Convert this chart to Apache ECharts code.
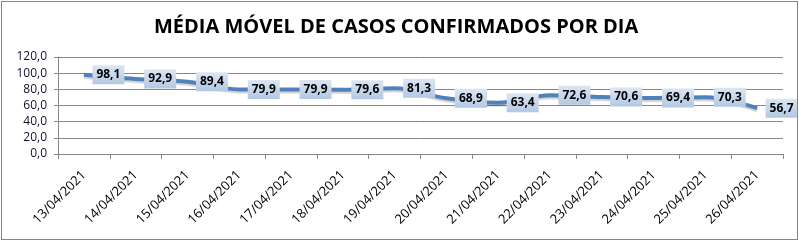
<!DOCTYPE html>
<html><head><meta charset="utf-8">
<script src="https://cdn.jsdelivr.net/npm/echarts@6/dist/echarts.min.js"></script>
<style>
html,body{margin:0;padding:0;background:#fff;}
#c{position:absolute;left:0;top:0;width:799px;height:241px;}
#b{position:absolute;left:1px;top:1px;width:795px;height:237px;border:1px solid #868686;pointer-events:none;}
</style></head>
<body><div id="c"></div><div id="b"></div>
<script>
const titleText = 'MÉDIA MÓVEL DE CASOS CONFIRMADOS POR DIA';
const categories = ['13/04/2021','14/04/2021','15/04/2021','16/04/2021','17/04/2021','18/04/2021','19/04/2021','20/04/2021','21/04/2021','22/04/2021','23/04/2021','24/04/2021','25/04/2021','26/04/2021'];
const values = [98.1, 92.9, 89.4, 79.9, 79.9, 79.6, 81.3, 68.9, 63.4, 72.6, 70.6, 69.4, 70.3, 56.7];
const yTicks = [0, 20, 40, 60, 80, 100, 120];

const fmt = v => v.toFixed(1).replace('.', ',');
const chart = echarts.init(document.getElementById('c'), null, {renderer:'canvas'});
chart.setOption({
  animation:false,
  title:{text:titleText,left:149,top:12,
    textStyle:{fontFamily:'Open Sans',fontWeight:'bold',fontSize:20,color:'#000'}},
  grid:{left:58,right:16,top:57,bottom:87,containLabel:false},
  xAxis:{type:'category',data:categories,boundaryGap:true,
    axisLine:{lineStyle:{color:'#868686',width:1}},
    axisTick:{show:true,alignWithLabel:false,length:5,lineStyle:{color:'#868686'}},
    axisLabel:{rotate:45,interval:0,fontFamily:'Open Sans',fontSize:13,color:'#000',margin:19}},
  yAxis:{type:'value',min:yTicks[0],max:yTicks[yTicks.length-1],interval:20,
    axisLine:{show:true,lineStyle:{color:'#868686'}},
    axisTick:{show:true,length:4,lineStyle:{color:'#868686'}},
    splitLine:{lineStyle:{color:'#868686',width:1}},
    axisLabel:{formatter:fmt,fontFamily:'Open Sans',fontSize:12,color:'#101030',margin:11}},
  series:[{type:'line',data:values,smooth:0.35,symbol:'circle',symbolSize:1,showSymbol:true,
    itemStyle:{color:'rgba(0,0,0,0)'},
    lineStyle:{color:'#4f81bd',width:4,shadowColor:'rgba(0,0,0,0.18)',shadowBlur:1,shadowOffsetY:2},
    labelLayout:{hideOverlap:false},
    label:{show:true,position:'right',distance:8,formatter:p=>fmt(p.value),
      fontFamily:'Open Sans',fontWeight:'bold',fontSize:12,color:'#000',
      textBorderWidth:0,textBorderColor:'transparent',textShadowBlur:0,
      padding:[4,4,3,4],
      backgroundColor:new echarts.graphic.LinearGradient(0,0,0,1,[{offset:0,color:'#dce6f2'},{offset:1,color:'#b3c8e3'}])}
  }]
});
</script></body></html>
